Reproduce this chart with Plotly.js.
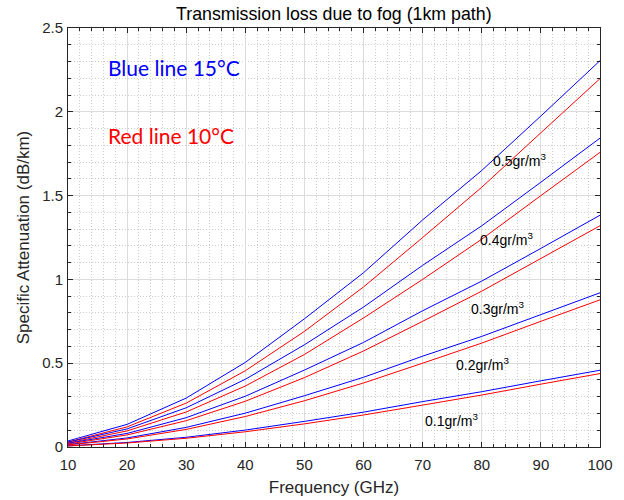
<!DOCTYPE html>
<html>
<head>
<meta charset="utf-8">
<script src="https://cdn.plot.ly/plotly-3.0.1.min.js"></script>
<style>
  html, body { margin: 0; padding: 0; background: #fff; }
  #chart { width: 624px; height: 500px; }
</style>
</head>
<body>
<div id="chart"></div>
<script>
// Frequency grid (GHz)
const freq = [10, 20, 30, 40, 50, 60, 70, 80, 90, 100];

// Specific attenuation (dB/km), 15 degC
const blue01 = [0.007, 0.027, 0.058, 0.101, 0.153, 0.208, 0.271, 0.330, 0.395, 0.458];
const blue02 = [0.014, 0.054, 0.117, 0.202, 0.306, 0.416, 0.542, 0.660, 0.790, 0.920];
const blue03 = [0.022, 0.081, 0.175, 0.303, 0.459, 0.624, 0.813, 0.990, 1.185, 1.383];
const blue04 = [0.029, 0.108, 0.234, 0.404, 0.610, 0.835, 1.084, 1.320, 1.580, 1.843];
const blue05 = [0.036, 0.135, 0.292, 0.505, 0.765, 1.040, 1.355, 1.650, 1.975, 2.305];

// Specific attenuation (dB/km), 10 degC
const red01 = [0.006, 0.024, 0.052, 0.091, 0.138, 0.191, 0.250, 0.310, 0.375, 0.438];
const red02 = [0.012, 0.048, 0.105, 0.182, 0.276, 0.382, 0.500, 0.620, 0.750, 0.878];
const red03 = [0.018, 0.072, 0.157, 0.273, 0.414, 0.573, 0.750, 0.930, 1.125, 1.320];
const red04 = [0.024, 0.096, 0.209, 0.364, 0.552, 0.770, 1.000, 1.240, 1.500, 1.758];
const red05 = [0.030, 0.120, 0.262, 0.455, 0.690, 0.955, 1.250, 1.550, 1.875, 2.198];

// Curve labels (liquid water content) and where they sit
const labelText = ['0.5gr/m<sup>3</sup>', '0.4gr/m<sup>3</sup>', '0.3gr/m<sup>3</sup>', '0.2gr/m<sup>3</sup>', '0.1gr/m<sup>3</sup>'];
const labelX = [81.6, 79.3, 77.9, 75.3, 70.1];
const labelY = [1.712, 1.241, 0.828, 0.493, 0.161];

const BLUE = '#0000ff', RED = '#ff0000';
const blueSets = [blue05, blue04, blue03, blue02, blue01];
const redSets = [red05, red04, red03, red02, red01];

const traces = [];
for (let i = 0; i < blueSets.length; i++) {
  traces.push({ x: freq, y: blueSets[i], type: 'scatter', mode: 'lines',
    line: { color: BLUE, width: 1 }, hoverinfo: 'skip' });
  traces.push({ x: freq, y: redSets[i], type: 'scatter', mode: 'lines',
    line: { color: RED, width: 1 }, hoverinfo: 'skip' });
}

const SANS = 'Liberation Sans, Arial, sans-serif';

const annotations = labelText.map((t, i) => ({
  x: labelX[i], y: labelY[i], xref: 'x', yref: 'y', text: t,
  showarrow: false, xanchor: 'left', yanchor: 'middle',
  font: { family: SANS, size: 14, color: '#000' }
}));
annotations.push({
  x: 16.5, y: 2.267, xref: 'x', yref: 'y', text: 'Blue line 15\u00B0C',
  showarrow: false, xanchor: 'left', yanchor: 'middle',
  font: { family: 'Lato, sans-serif', size: 21, color: BLUE }
});
annotations.push({
  x: 16.5, y: 1.856, xref: 'x', yref: 'y', text: 'Red line 10\u00B0C',
  showarrow: false, xanchor: 'left', yanchor: 'middle',
  font: { family: 'Lato, sans-serif', size: 21, color: RED }
});

const axisCommon = {
  showline: true, linecolor: '#262626', linewidth: 1, mirror: 'allticks',
  ticks: 'inside', ticklen: 5, tickcolor: '#262626', tickwidth: 1,
  showgrid: true, gridcolor: '#dcdcdc', gridwidth: 1, zeroline: false,
  tickfont: { family: SANS, size: 15, color: '#262626' },
};

const layout = {
  width: 624, height: 500,
  margin: { l: 68, r: 24, t: 28, b: 53 },
  paper_bgcolor: '#fff', plot_bgcolor: '#fff',
  showlegend: false,
  title: { text: 'Transmission loss due to fog (1km path)', x: 0.535, xanchor: 'center', y: 0.972, yanchor: 'middle',
    font: { family: SANS, size: 17.8, color: '#000' } },
  xaxis: Object.assign({}, axisCommon, {
    range: [10, 100], dtick: 10, tick0: 10, ticklabelstandoff: 4,
    minor: { dtick: 2, ticks: 'inside', ticklen: 3, tickcolor: '#262626', showgrid: true, gridcolor: '#cccccc', griddash: '1px,2px', gridwidth: 1 },
    title: { text: 'Frequency (GHz)', standoff: 9, font: { family: SANS, size: 17, color: '#262626' } }
  }),
  yaxis: Object.assign({}, axisCommon, {
    range: [0, 2.5], dtick: 0.5, tick0: 0, ticklabelstandoff: 1,
    minor: { dtick: 0.1, ticks: 'inside', ticklen: 3, tickcolor: '#262626', showgrid: true, gridcolor: '#cccccc', griddash: '1px,2px', gridwidth: 1 },
    title: { text: 'Specific Attenuation (dB/km)', standoff: 8, font: { family: SANS, size: 17, color: '#262626' } }
  }),
  annotations: annotations
};

Plotly.newPlot('chart', traces, layout, { staticPlot: true, displayModeBar: false });
</script>
</body>
</html>
